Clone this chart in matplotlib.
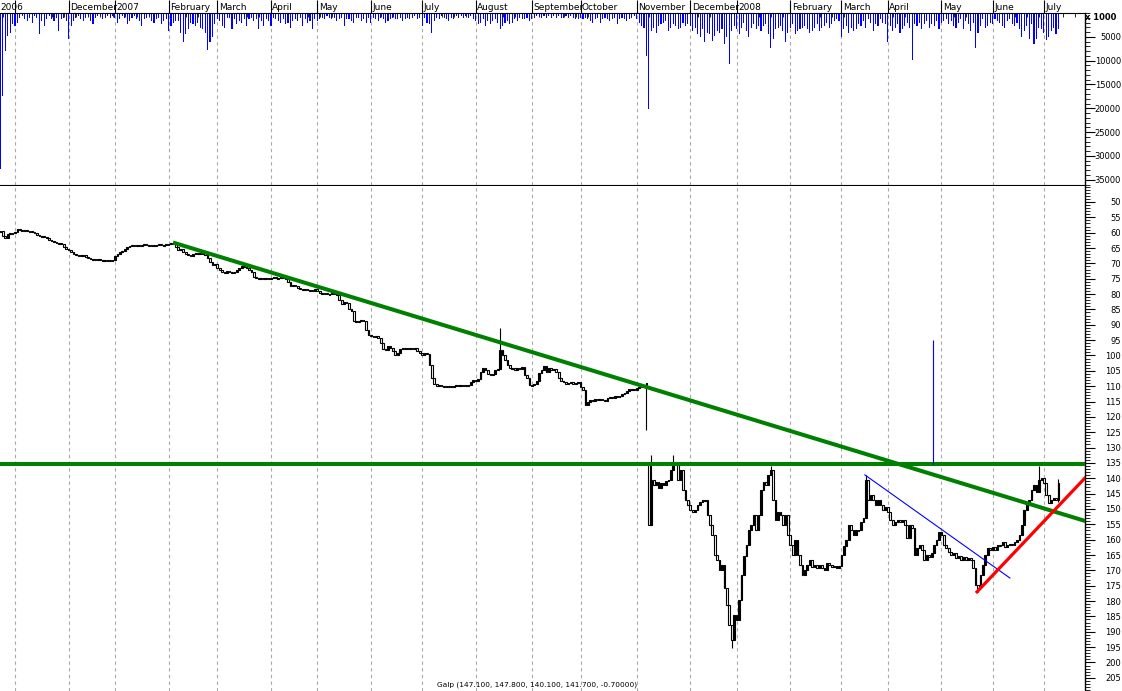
import matplotlib
matplotlib.use("Agg")
import matplotlib.pyplot as plt
from matplotlib.patches import Rectangle
from matplotlib.ticker import MultipleLocator, FixedLocator

# month separators (trading days per month, Nov 2006 .. Jun 2008)
month_labels = ["2006", "December", "2007", "February", "March", "April", "May", "June",
                "July", "August", "September", "October", "November", "December", "2008",
                "February", "March", "April", "May", "June", "July"]
month_days = [22, 19, 22, 20, 22, 19, 22, 21, 22, 23, 20, 23, 22, 19, 22, 21, 19, 22, 21, 21]
first_day = -6   # a few sessions of late October 2006

# daily closes
close = [
    59.5, 61.1, 61.7, 60.4, 60.1, 60.1,
    # Nov 2006
    59.8, 58.8, 59.1, 59.5, 59.1, 59.5, 59.5, 59.8, 60.1, 60.7, 61.1, 61.1, 61.4, 61.7, 62.4, 62.7,
    63.0, 63.4, 63.4, 63.7, 64.7, 65.3,
    # Dec
    65.6, 66.3, 66.9, 67.3, 67.3, 67.6, 67.3, 67.9, 68.2, 68.6, 68.6, 68.9, 68.6, 68.9, 68.9, 69.2,
    68.9, 69.2, 68.9,
    # Jan 2007
    67.6, 66.9, 66.3, 66.0, 65.3, 64.7, 64.3, 64.0, 64.3, 64.0, 64.3, 64.0, 63.7, 64.0, 64.3, 64.0,
    64.3, 64.0, 63.7, 64.0, 64.0, 63.7,
    # Feb
    63.7, 63.4, 63.7, 64.7, 65.6, 65.3, 66.3, 66.9, 67.3, 67.6, 66.9, 66.6, 66.6, 66.9, 66.6, 67.3,
    68.2, 69.5, 70.5, 70.2,
    # Mar
    71.5, 72.1, 72.8, 73.1, 72.5, 72.8, 73.1, 72.8, 72.1, 71.5, 70.8, 71.2, 71.5, 72.1, 72.8, 74.4,
    74.8, 74.8, 75.1, 74.8, 75.1, 74.8,
    # Apr
    74.8, 74.4, 74.8, 74.8, 74.4, 74.8, 75.1, 76.1, 77.4, 77.0, 77.4, 78.0, 78.3, 78.7, 78.3, 78.7,
    78.7, 79.0, 78.3,
    # May
    79.0, 79.6, 79.6, 79.6, 80.0, 80.0, 79.6, 80.0, 80.3, 81.9, 83.2, 82.6, 82.9, 84.9, 85.5, 88.8,
    88.8, 88.8, 88.4, 88.8, 91.7, 93.3,
    # Jun
    93.6, 94.0, 93.6, 94.3, 95.9, 97.9, 98.2, 97.0, 97.6, 98.5, 99.8, 99.2, 97.9, 97.6, 97.9, 97.6,
    97.6, 97.9, 97.6, 98.5, 99.2,
    # Jul
    99.8, 99.2, 99.5, 103.1, 107.3, 109.3, 109.9, 109.6, 109.9, 110.3, 109.9, 110.3, 109.9, 109.9,
    109.6, 109.9, 109.6, 109.6, 109.9, 109.6, 108.6, 108.0,
    # Aug
    108.3, 107.7, 105.4, 104.1, 104.7, 106.0, 106.4, 106.0, 104.7, 104.4, 98.2, 99.8, 101.5, 103.1,
    104.1, 104.1, 104.7, 104.1, 104.4, 103.7, 106.4, 107.3, 109.6,
    # Sep
    109.6, 109.3, 108.3, 105.7, 104.7, 103.4, 105.4, 104.1, 104.7, 104.4, 105.4, 107.3, 108.3, 108.6,
    109.3, 108.9, 108.6, 109.3, 108.9, 108.6,
    # Oct
    110.3, 111.2, 116.1, 115.1, 114.5, 114.8, 114.2, 114.5, 114.2, 114.5, 114.8, 113.8, 113.5, 113.8,
    113.2, 113.5, 113.2, 112.5, 112.2, 111.6, 110.9, 110.9, 111.2,
    # Nov
    110.6, 110.3, 109.9, 109.6, 108.9, 155.2, 140.6, 142.2, 141.2, 143.2, 141.5, 142.2, 140.9, 140.6,
    137.3, 134.7, 135.7, 140.6, 137.3, 143.8, 147.1, 148.7,
    # Dec
    150.3, 151.0, 150.3, 148.7, 147.7, 147.1, 147.1, 152.0, 155.2, 158.5, 165.0, 166.6, 169.9, 168.2,
    175.7, 181.3, 187.8, 192.7, 184.5,
    # Jan 2008
    186.2, 179.6, 171.5, 165.3, 161.7, 156.8, 155.2, 152.0, 156.8, 152.0, 143.8, 141.2, 142.2, 138.9,
    137.3, 147.1, 153.6, 151.0, 152.0, 155.2, 152.0, 158.5,
    # Feb
    161.7, 165.0, 160.1, 165.0, 168.2, 171.5, 169.9, 168.2, 166.6, 168.9, 168.2, 169.2, 168.2, 169.2,
    169.9, 167.6, 168.2, 168.9, 168.6, 169.2, 168.6,
    # Mar
    165.0, 162.1, 160.1, 155.2, 156.8, 158.5, 156.8, 156.8, 154.2, 152.9, 140.6, 147.1, 145.4, 147.1,
    148.7, 147.1, 148.7, 150.3, 149.4,
    # Apr
    151.0, 153.6, 155.2, 154.2, 153.6, 154.2, 153.6, 155.2, 159.4, 155.2, 156.2, 165.0, 162.7, 161.7,
    163.4, 166.6, 165.0, 165.6, 164.3, 161.7, 160.1, 157.5,
    # May
    158.5, 161.7, 162.7, 164.0, 165.0, 164.3, 166.0, 165.3, 166.6, 165.6, 166.6, 166.0, 166.6, 169.2,
    174.8, 175.7, 171.5, 168.2, 165.0, 162.7, 163.4,
    # Jun
    162.4, 163.4, 161.7, 161.7, 160.7, 162.4, 161.7, 161.4, 161.7, 160.7, 160.1, 158.5, 155.2, 150.3,
    148.7, 147.1, 143.8, 142.2, 144.5, 140.6, 139.9,
    # Jul
    141.5, 145.4, 148.0, 147.1, 146.4, 147.1, 141.7,
]

# opening gaps and long shadows (day -> value / (low, high))
gap_open = {260: 135.7}
shadows = {199: (91.0, 104.4), 259: (108.9, 124.3), 261: (132.4, 155.2), 270: (132.4, 137.3),
           294: (187.8, 195.3), 310: (136.0, 138.9), 349: (138.9, 152.9), 395: (174.8, 177.0),
           420: (136.0, 144.5), 428: (140.1, 147.8)}

# daily volume, x 1000
volume = [
    32700, 17500, 8000, 4800, 4100, 2300,
    2700, 2000, 1000, 600, 1300, 1700, 1000, 2000, 600, 1000, 4400, 1700, 2700, 1300, 600, 1300,
    1700, 1000, 3700, 1300, 1000, 1700,
    5500, 2700, 1700, 1000, 600, 1300, 1700, 1000, 600, 1700, 2400, 1000, 600, 600, 1300, 1000,
    600, 1000, 600,
    1000, 2000, 1300, 600, 1000, 2400, 1700, 1000, 600, 1300, 1700, 2700, 1300, 1000, 600, 1700,
    2000, 1300, 1000, 2400, 1700, 1300,
    3700, 2700, 2000, 1700, 1700, 4100, 6000, 4400, 3400, 2000, 2400, 2700, 2000, 3100, 3400, 4100,
    7700, 6000, 5100, 2400,
    1300, 1700, 2700, 3100, 1000, 1000, 3400, 1300, 2400, 1700, 2000, 1300, 2700, 1300, 1000, 1700,
    1300, 3400, 1700, 2700, 1300, 1700,
    2700, 1000, 1300, 1700, 2000, 1300, 2400, 2000, 3100, 1700, 1300, 1700, 1000, 2700, 1300, 2000,
    1700, 3400, 1300,
    1700, 1300, 1000, 1300, 600, 1000, 1300, 1000, 1700, 1300, 1000, 2700, 1300, 1300, 1700, 2000,
    1000, 1000, 1700, 1300, 2000, 1000,
    2000, 1000, 1300, 1700, 1000, 1300, 2000, 1700, 1300, 1000, 1300, 1300, 1000, 1700, 1300, 1000,
    1300, 1000, 600, 1300, 1000,
    2700, 1000, 2000, 2400, 4100, 1700, 1000, 1300, 600, 1000, 1300, 1700, 1000, 1300, 600, 1000,
    600, 1000, 600, 1000, 600, 1300,
    1700, 2400, 2000, 1300, 2700, 1700, 2400, 1700, 1300, 2000, 3400, 2700, 2000, 1700, 2400, 2000,
    1300, 1700, 1000, 1300, 1300, 1000, 1700,
    1300, 1000, 600, 600, 1000, 600, 1000, 600, 1000, 600, 1000, 600, 1000, 1000, 600, 1000, 600,
    1000, 1300, 1300,
    1000, 1300, 1000, 1300, 1700, 2000, 1300, 1000, 2000, 1300, 1000, 1300, 1700, 1300, 1000, 2400,
    1300, 1000, 1300, 1700, 1300, 1000, 600,
    1300, 2000, 2700, 3100, 9000, 20200, 3700, 3100, 4100, 2700, 2400, 2000, 1700, 3700, 3100, 2400,
    2700, 3400, 3100, 2000, 2700, 2400,
    2700, 3700, 3100, 4400, 5100, 3400, 6000, 4100, 4400, 5800, 4800, 3700, 4100, 3400, 6500, 5000,
    10800, 3700, 2700,
    3400, 4400, 3100, 2000, 3700, 5100, 3100, 2400, 3400, 2700, 3700, 2700, 2400, 4400, 7300, 5500,
    3400, 3100, 2700, 3700, 6000, 4100,
    3100, 2400, 4400, 3700, 3400, 3100, 2700, 3400, 4100, 3700, 3100, 2400, 3700, 3100, 2700, 2000,
    3100, 2400, 1700, 1300, 1700,
    5100, 3400, 2700, 4100, 3100, 3700, 3400, 2400, 2700, 1700, 3100, 1300, 2000, 3700, 2400, 2700,
    1300, 2000, 2400,
    6000, 2700, 3700, 3100, 2400, 4100, 3400, 2700, 2000, 3100, 9800, 2400, 2700, 2000, 3400, 2400,
    1700, 3100, 2400, 2700, 1700, 3400,
    2000, 1700, 1300, 2400, 1700, 2700, 3100, 2000, 1300, 3400, 1700, 2400, 3700, 2000, 7300, 4100,
    2700, 1300, 3100, 2700, 2000,
    2400, 1300, 1700, 2000, 2700, 3100, 1700, 1300, 2400, 2700, 2000, 3400, 5100, 3700, 2700, 5500,
    2400, 6500, 5500, 3100, 3400,
    4100, 5600, 5100, 3700, 3100, 4400, 3400,
]

# drawn trend lines (day, price)
trend_x, trend_y = [65.6, 438.9], [63.4, 153.9]
resist_level = 135.3
blue_x, blue_y = [348.6, 408.1], [138.9, 172.5]
red_x, red_y = [394.6, 438.9], [177.0, 139.9]
marker_day, marker_lo, marker_hi = 376.5, 95.0, 135.3

title_text = "Galp (147.100, 147.800, 140.100, 141.700, -0.70000)"

W, H = 1122, 691
fig = plt.figure(figsize=(W / 100, H / 100), dpi=100)
ax_v = fig.add_axes([0, 1 - 185 / H, 1085 / W, (185 - 13) / H])
ax_p = fig.add_axes([0, 0, 1085 / W, (691 - 186) / H])

xmin, xmax = -6.15, 438.9
days = list(range(first_day, first_day + len(close)))

month_start = [0]
for n in month_days:
    month_start.append(month_start[-1] + n)

grid_kw = dict(color="#a8a8a8", lw=0.8, ls=(0, (3, 3)), zorder=0)
for ax in (ax_v, ax_p):
    ax.set_xlim(xmin, xmax)
    for m in month_start:
        ax.axvline(m, **grid_kw)
    for side in ("left", "bottom", "top"):
        ax.spines[side].set_visible(False)
    ax.spines["right"].set_linewidth(1.0)
    ax.yaxis.tick_right()
    ax.tick_params(axis="y", which="major", length=7, width=0.8, labelsize=6, pad=19)
    ax.tick_params(axis="y", which="minor", length=3.5, width=0.6)

# ---- volume panel
ax_v.bar(days, volume, width=0.45, color="#0000ff", zorder=2)
ax_v.set_ylim(36100, 0)
ax_v.spines["top"].set_visible(True)
ax_v.spines["bottom"].set_visible(True)
ax_v.yaxis.set_major_locator(FixedLocator(range(5000, 36000, 5000)))
ax_v.yaxis.set_minor_locator(MultipleLocator(1000))
ax_v.xaxis.tick_top()
ax_v.xaxis.set_major_locator(FixedLocator(month_start))
ax_v.xaxis.set_minor_locator(MultipleLocator(5))
ax_v.tick_params(axis="x", which="major", direction="out", length=9.5, width=0.8, labeltop=False)
ax_v.tick_params(axis="x", which="minor", direction="in", length=3, width=0.6)
ax_v.tick_params(axis="x", labelbottom=False, bottom=False)
ax_v.text(1.0, 1.0, "x 1000", transform=ax_v.transAxes, fontsize=6,
          ha="left", va="top", fontweight="bold")
# month captions along the top edge
ax_v.annotate(month_labels[0], xy=(xmin, 1.0), xycoords=("data", "axes fraction"),
              xytext=(0, 1), textcoords="offset points", fontsize=6.5, ha="left", va="bottom")
for m, lab in zip(month_start[1:], month_labels[1:]):
    ax_v.annotate(lab, xy=(m, 1.0), xycoords=("data", "axes fraction"),
                  xytext=(1, 1), textcoords="offset points", fontsize=6.5, ha="left", va="bottom")

# ---- price panel
opens = [close[0]] + close[:-1]
for d, o in gap_open.items():
    opens[d - first_day] = o
for d, o, c in zip(days, opens, close):
    lo, hi = min(o, c), max(o, c)
    if d in shadows:
        lo, hi = min(lo, shadows[d][0]), max(hi, shadows[d][1])
    ax_p.vlines(d, lo, hi, color="black", lw=0.8, zorder=2)
    body = max(abs(c - o), 0.3)
    ax_p.add_patch(Rectangle((d - 0.35, min(o, c)), 0.7, body, lw=0.8, edgecolor="black",
                             facecolor="white" if c > o else "black", zorder=3))

ax_p.plot(trend_x, trend_y, color="#008000", lw=2.9, zorder=4)
ax_p.axhline(resist_level, color="#008000", lw=2.9, zorder=4)
ax_p.plot(blue_x, blue_y, color="#0000ff", lw=0.8, zorder=4)
ax_p.plot(red_x, red_y, color="#ff0000", lw=2.3, zorder=5)
ax_p.vlines(marker_day, marker_lo, marker_hi, color="#0000ff", lw=0.8, zorder=4)

ax_p.set_ylim(209.3, 44.8)
ax_p.yaxis.set_major_locator(FixedLocator(range(50, 210, 5)))
ax_p.yaxis.set_minor_locator(MultipleLocator(1))
ax_p.tick_params(axis="x", bottom=False, labelbottom=False)

for ax in (ax_v, ax_p):
    for lbl in ax.get_yticklabels():
        lbl.set_horizontalalignment("right")

fig.text(437 / W, 1 - 685 / H, title_text, fontsize=5.3, ha="left", va="center")

fig.savefig("out.png", dpi=100)
